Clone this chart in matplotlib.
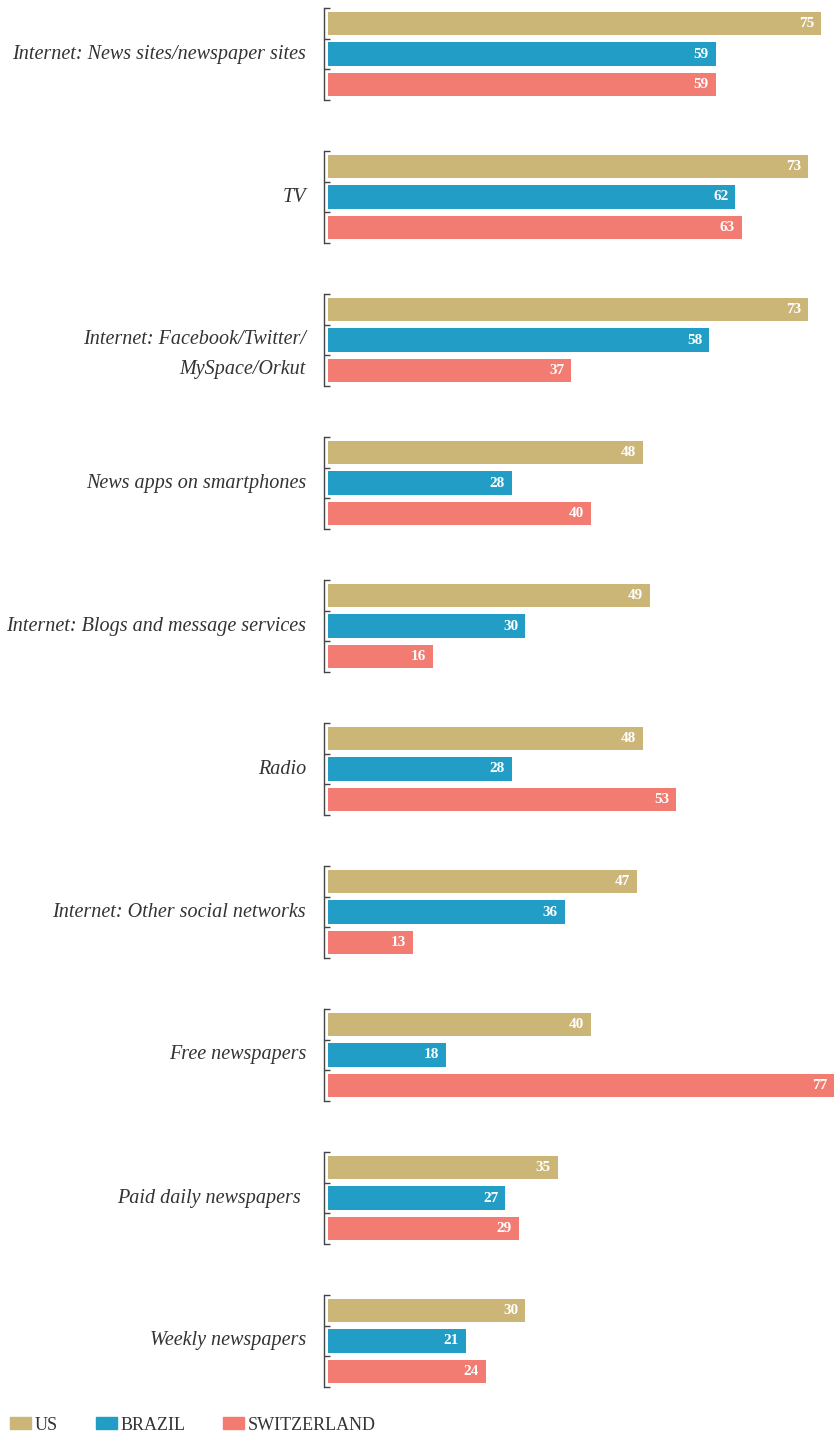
import matplotlib.pyplot as plt
from matplotlib.patches import Patch

# --------------------------------------------------------------
# Data

categories = ['Internet: News sites/newspaper sites', 'TV',
              'Internet: Facebook/Twitter/\nMySpace/Orkut', 'News apps on smartphones',
              'Internet: Blogs and message services', 'Radio',
              'Internet: Other social networks', 'Free newspapers',
              'Paid daily newspapers ', 'Weekly newspapers']
series = ['US', 'BRAZIL', 'SWITZERLAND']
us = [75, 73, 73, 48, 49, 48, 47, 40, 35, 30]
brazil = [59, 62, 58, 28, 30, 28, 36, 18, 27, 21]
switzerland = [59, 63, 37, 40, 16, 53, 13, 77, 29, 24]
colors = ['#cbb677', '#219dc6', '#f27b72']

# --------------------------------------------------------------
# Plot

W, H = 834, 1431
fig = plt.figure(figsize=(W / 100, H / 100), dpi=100)
plt.rcParams['font.family'] = ['Liberation Serif', 'DejaVu Serif']

x0 = 328
for g, cat in enumerate(categories):
    top = 8 + 143 * g
    ax = fig.add_axes([x0 / W, 1 - (top + 92) / H, 1 - x0 / W, 92 / H])
    vals = [us[g], brazil[g], switzerland[g]]
    ax.barh(range(3), vals, height=0.76, color=colors)
    for i, v in enumerate(vals):
        ax.annotate(str(v), (v, i), xytext=(-5, 0), textcoords='offset points',
                    ha='right', va='center', color='white', fontsize=11,
                    fontweight='bold')
    ax.set_xlim(0, 77)
    ax.set_ylim(2.5, -0.5)
    for s in ['top', 'right', 'bottom']:
        ax.spines[s].set_visible(False)
    ax.spines['left'].set_position(('outward', 3))
    ax.spines['left'].set_color('#444444')
    ax.spines['left'].set_linewidth(1.0)
    ax.set_xticks([])
    ax.set_yticks([-0.5, 0.5, 1.5, 2.5])
    ax.set_yticklabels([])
    ax.tick_params(axis='y', direction='in', length=4, width=1.0, color='#444444')
    ax.patch.set_alpha(0)
    nlines = cat.count('\n') + 1
    ax.text(-22 / 506 * 77, 1 + 0.48 * (nlines - 1), cat, ha='right', va='center',
            fontsize=14.5, style='italic', color='#333333', linespacing=1.75,
            transform=ax.transData)

handles = [Patch(color=c, label=s) for c, s in zip(colors, series)]
fig.legend(handles=handles, loc='center left', bbox_to_anchor=(0.006, 1 - 1425 / H),
           ncol=3, frameon=False, fontsize=13, handlelength=1.15, handleheight=0.6,
           handletextpad=0.2, columnspacing=2.1, borderaxespad=0, borderpad=0.3,
           labelcolor='#333333')

fig.savefig('out.png', dpi=100)
